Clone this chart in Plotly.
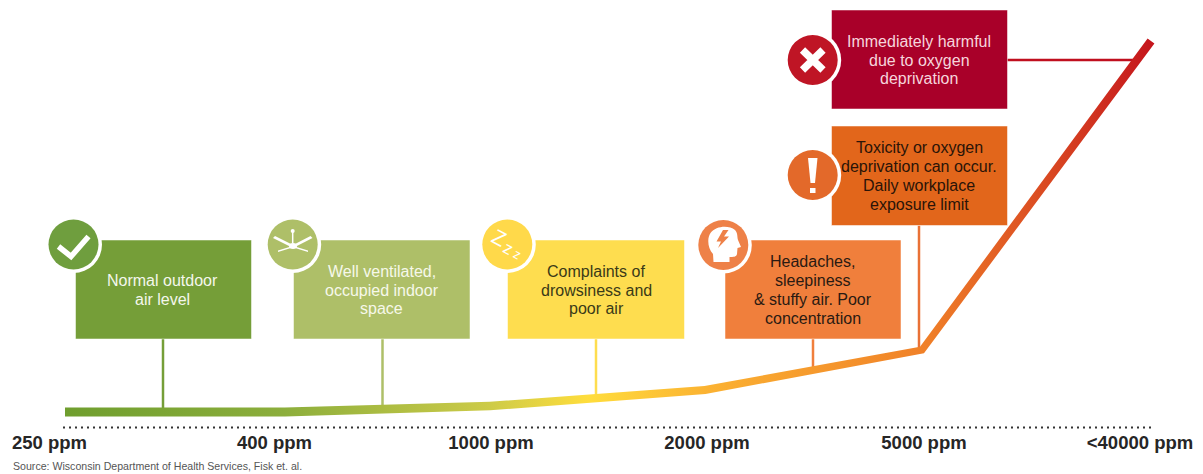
import numpy as np
import plotly.graph_objects as go

WIDTH, HEIGHT = 1203, 474

# Exposure scale along the bottom
tick_labels = ["250 ppm", "400 ppm", "1000 ppm", "2000 ppm", "5000 ppm", "<40000 ppm"]
tick_positions = [49.5, 274.5, 491, 707, 924, 1140]

# Rising concentration band: centre line and its thickness
curve_x = [65, 285, 490, 705, 922, 1151]
curve_y = [412, 412, 406, 390, 350, 41]
curve_thickness = [9, 9, 8.5, 8, 7.5, 8.5]
curve_stops = [
    [0.0, "#6F9E2E"], [0.2, "#8CAE3C"], [0.39, "#CDCB48"], [0.48, "#FFDD3C"],
    [0.59, "#FBB232"], [0.79, "#F08028"], [0.9, "#DA4A22"], [1.0, "#C4141C"],
]

# Effect cards
card_texts = [
    ["Normal outdoor", "air level"],
    ["Well ventilated,", "occupied indoor", "space"],
    ["Complaints of", "drowsiness and", "poor air"],
    ["Headaches,", "sleepiness", "& stuffy air. Poor", "concentration"],
    ["Toxicity or oxygen", "deprivation can occur.", "Daily workplace", "exposure limit"],
    ["Immediately harmful", "due to oxygen", "deprivation"],
]
card_left = [75.5, 293.5, 507.5, 725, 831.5, 831.5]
card_right = [251.5, 470, 684.5, 901, 1007.5, 1007.5]
card_top = [240, 240, 240, 240, 126, 10]
card_bottom = [339, 339, 339, 339, 225.5, 109]
card_colors = ["#759E38", "#AEBF68", "#FEDD4F", "#F07F3C", "#E2661B", "#A90029"]
text_colors = ["#F4F7EC", "#F6F8EA", "#3A3A18", "#2A1A12", "#2A1408", "#F6D5DC"]
text_center_x = [162.5, 381.7, 596, 812.7, 919, 919]
text_center_y = [290, 290, 290, 290, 176, 60]

# Connectors from each card to the band
stem_x0 = [163, 382.5, 596, 813, 919, 1007]
stem_y0 = [339, 339, 339, 339, 225.5, 60]
stem_x1 = [163, 382.5, 596, 813, 919, 1134]
stem_y1 = [409, 405, 396, 368, 348, 60]
stem_colors = ["#759E38", "#AEBF68", "#FEDD4F", "#F07F3C", "#E97136", "#C00F1E"]

# Icon badges
badge_x = [73.5, 292.7, 507.3, 723.3, 812.7, 812.7]
badge_y = [244.5, 244.5, 244.5, 245, 175, 60]
badge_colors = ["#6F9E3E", "#AEBF68", "#FFD94A", "#EE8148", "#E3692A", "#BF1525"]
BADGE_R = 25


def band_outline(xs, ys, widths):
    """Return a closed polygon for a polyline with varying thickness."""
    pts = np.column_stack([xs, ys]).astype(float)
    seg = np.diff(pts, axis=0)
    seg /= np.linalg.norm(seg, axis=1, keepdims=True)
    normals = np.column_stack([seg[:, 1], -seg[:, 0]])
    vertex_normals = np.vstack([normals[0], normals[:-1] + normals[1:], normals[-1]])
    vertex_normals /= np.linalg.norm(vertex_normals, axis=1, keepdims=True)
    half = np.asarray(widths)[:, None] / 2
    upper, lower = pts + vertex_normals * half, pts - vertex_normals * half
    ring = np.vstack([upper, lower[::-1], upper[:1]])
    return ring[:, 0], ring[:, 1]


def circle(cx, cy, r, fill):
    return dict(type="circle", x0=cx - r, x1=cx + r, y0=cy - r, y1=cy + r,
                fillcolor=fill, line_width=0, layer="above")


def glyph(path, fill="white", line=None, width=0):
    shape = dict(type="path", path=path, fillcolor=fill, layer="above",
                 line=dict(color=line or "rgba(0,0,0,0)", width=width))
    return shape


fig = go.Figure()

band_x, band_y = band_outline(curve_x, curve_y, curve_thickness)
fig.add_trace(go.Scatter(
    x=band_x, y=band_y, mode="lines", fill="toself", line=dict(width=0),
    fillgradient=dict(type="horizontal", colorscale=curve_stops),
    hoverinfo="skip", showlegend=False,
))

shapes = []
for x0, y0, x1, y1, c in zip(stem_x0, stem_y0, stem_x1, stem_y1, stem_colors):
    shapes.append(dict(type="line", x0=x0, y0=y0, x1=x1, y1=y1, layer="below",
                       line=dict(color=c, width=2.5)))

# Dotted baseline above the tick labels
shapes.append(dict(type="line", x0=63, x1=1155, y0=427.5, y1=427.5, layer="below",
                   line=dict(color="#333333", width=2, dash="2px,4px")))

for l, r, t, b, c in zip(card_left, card_right, card_top, card_bottom, card_colors):
    shapes.append(dict(type="rect", x0=l, x1=r, y0=t, y1=b, fillcolor=c, layer="above",
                       line=dict(color="rgba(255,255,255,0.5)", width=1)))

for cx, cy, c in zip(badge_x, badge_y, badge_colors):
    shapes.append(circle(cx, cy, BADGE_R + 3.5, "white"))
    shapes.append(circle(cx, cy, BADGE_R, c))

# Check mark
shapes.append(glyph("M 58.5 246.5 L 71 256.5 L 88.5 236.5", fill="rgba(0,0,0,0)", line="white", width=5.5))

# Ceiling fan
shapes.append(glyph("M 292.7 231 L 292.7 243", fill="rgba(0,0,0,0)", line="white", width=1.5))
shapes.append(circle(292.7, 231, 2, "white"))
shapes.append(glyph("M 273 238 L 275 236 L 291 244 L 291 247 Z"))
shapes.append(glyph("M 312.5 238 L 310.5 236 L 295 244 L 295 247 Z"))
shapes.append(glyph("M 278 252 L 278 250.5 L 291 246.5 L 291 248 Z"))
shapes.append(glyph("M 308 252 L 308 250.5 L 295 246.5 L 295 248 Z"))
shapes.append(dict(type="circle", x0=289, x1=297, y0=243, y1=249, fillcolor="white",
                   line_width=0, layer="above"))

# Head with lightning bolt
shapes.append(glyph(
    "M 713.5 262 L 713 254 C 707.5 248 707 238 710.5 233 C 716 225.5 729 225 735 230 "
    "C 738 233 737 237 738 240 L 741 247 L 737.5 248 L 737 254 C 736.5 257 733 257 729.5 257 "
    "L 729.5 262 Z"))
shapes.append(glyph("M 723 230 L 716.5 241.5 L 721 241.5 L 718 248 L 729 236.5 L 724 236.5 L 728.5 230 Z",
                    fill="#EE8148"))

# Exclamation mark
shapes.append(glyph("M 808 158 L 817.5 158 L 815 183 L 810.5 183 Z"))
shapes.append(dict(type="rect", x0=810, x1=815.5, y0=188, y1=193, fillcolor="white",
                   line_width=0, layer="above"))

# Cross
shapes.append(glyph("M 802.5 50 L 823 70 M 823 50 L 802.5 70", fill="rgba(0,0,0,0)", line="white", width=7.5))

annotations = []
LINE_STEP = 18.7
for lines, color, cx, cy in zip(card_texts, text_colors, text_center_x, text_center_y):
    for i, line in enumerate(lines):
        annotations.append(dict(
            x=cx, y=cy + (i - (len(lines) - 1) / 2) * LINE_STEP, text=line, showarrow=False,
            xanchor="center", yanchor="middle",
            font=dict(family="Liberation Sans", size=16, color=color),
        ))

# Drowsiness letters
for txt, x, y, size in [("Z", 499, 237, 21), ("z", 508, 248, 17), ("z", 517.5, 254.5, 13)]:
    annotations.append(dict(x=x, y=y, text=txt, showarrow=False, textangle=28,
                            font=dict(family="Liberation Sans", size=size, color="white")))

annotations.append(dict(
    x=10.5, y=466, text="Source: Wisconsin Department of Health Services, Fisk et. al.",
    showarrow=False, xanchor="left", yanchor="middle",
    font=dict(family="Liberation Sans", size=10.6, color="#555555"),
))

fig.update_layout(
    width=WIDTH, height=HEIGHT, margin=dict(l=0, r=0, t=0, b=0),
    paper_bgcolor="white", plot_bgcolor="white", showlegend=False,
    shapes=shapes, annotations=annotations,
    xaxis=dict(
        range=[0, WIDTH], fixedrange=True, showgrid=False, zeroline=False, showline=False,
        tickmode="array", tickvals=tick_positions, ticktext=tick_labels, ticks="",
        anchor="free", position=1 - 429 / HEIGHT,
        tickfont=dict(family="Liberation Sans", size=18.5, color="#262626", weight="bold"),
    ),
    yaxis=dict(range=[HEIGHT, 0], fixedrange=True, showgrid=False, zeroline=False,
               showline=False, showticklabels=False, ticks=""),
)

fig.write_html("out.html", config=dict(displayModeBar=False))
